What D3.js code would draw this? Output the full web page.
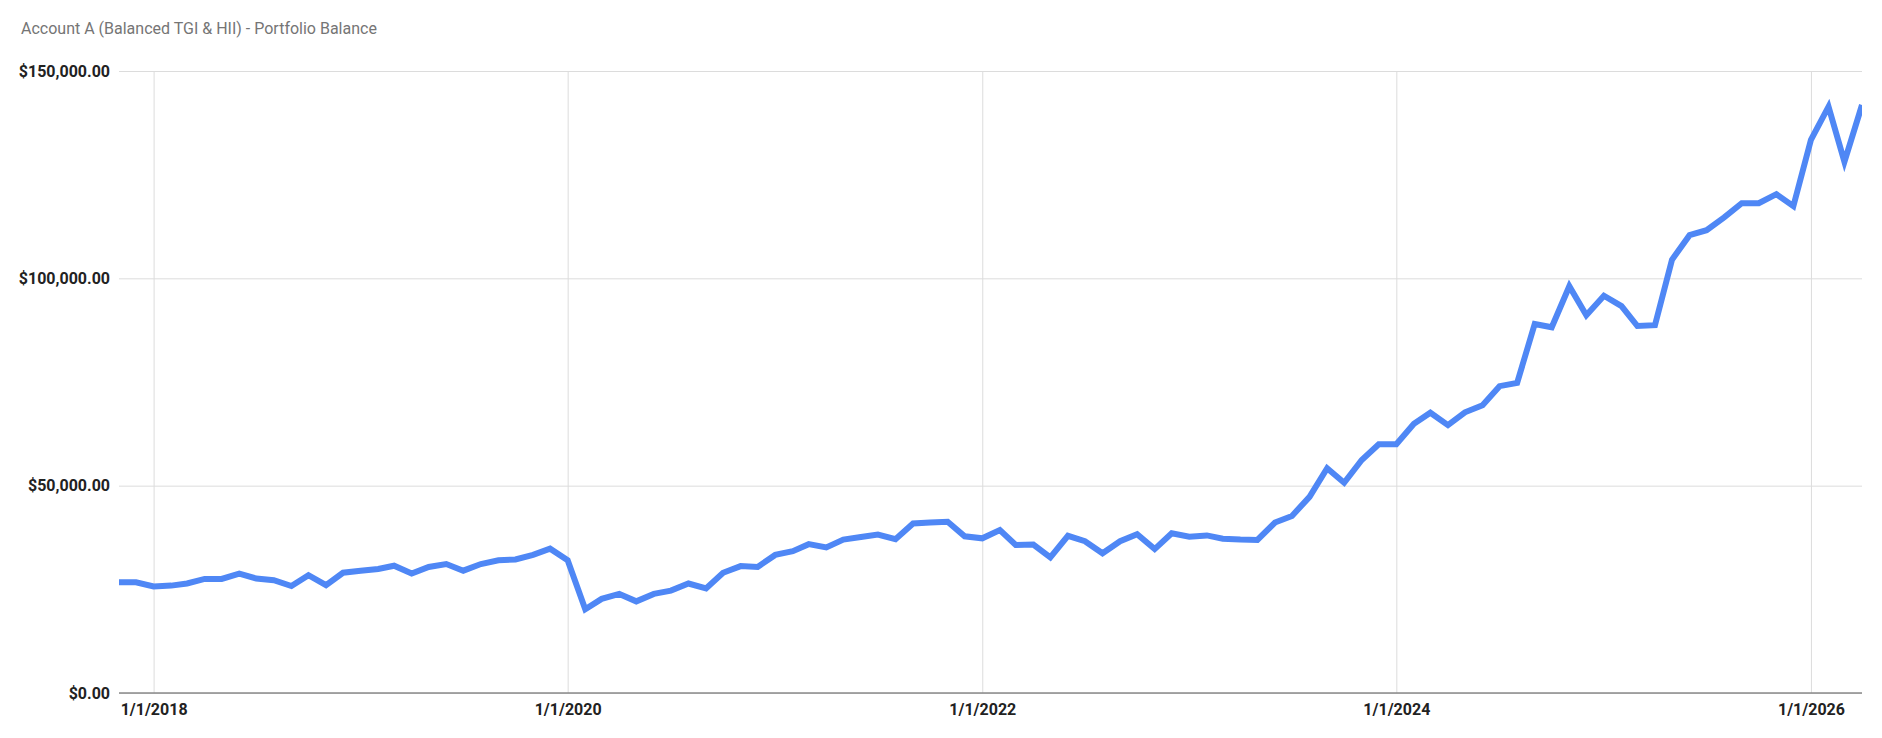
<!DOCTYPE html>
<html>
<head>
<meta charset="utf-8">
<script src="https://cdn.jsdelivr.net/npm/d3@7"></script>
<style>
  body { margin: 0; background: #fff; }
  text { font-family: Roboto, "Noto Sans", sans-serif; }
</style>
</head>
<body>
<div id="chart"></div>
<script>
// Month starts (first of each month), Nov 2017 .. Apr 2026
var months = [
  "2017-11","2017-12",
  "2018-01","2018-02","2018-03","2018-04","2018-05","2018-06","2018-07","2018-08","2018-09","2018-10","2018-11","2018-12",
  "2019-01","2019-02","2019-03","2019-04","2019-05","2019-06","2019-07","2019-08","2019-09","2019-10","2019-11","2019-12",
  "2020-01","2020-02","2020-03","2020-04","2020-05","2020-06","2020-07","2020-08","2020-09","2020-10","2020-11","2020-12",
  "2021-01","2021-02","2021-03","2021-04","2021-05","2021-06","2021-07","2021-08","2021-09","2021-10","2021-11","2021-12",
  "2022-01","2022-02","2022-03","2022-04","2022-05","2022-06","2022-07","2022-08","2022-09","2022-10","2022-11","2022-12",
  "2023-01","2023-02","2023-03","2023-04","2023-05","2023-06","2023-07","2023-08","2023-09","2023-10","2023-11","2023-12",
  "2024-01","2024-02","2024-03","2024-04","2024-05","2024-06","2024-07","2024-08","2024-09","2024-10","2024-11","2024-12",
  "2025-01","2025-02","2025-03","2025-04","2025-05","2025-06","2025-07","2025-08","2025-09","2025-10","2025-11","2025-12",
  "2026-01","2026-02","2026-03","2026-04"
];

// Portfolio balance
var balance = [
  26700, 26700,
  25700, 25900, 26400, 27500, 27500, 28800, 27600, 27200, 25800, 28400, 26000, 29000,
  29500, 29900, 30700, 28800, 30400, 31100, 29500, 31100, 32000, 32200, 33300, 34800,
  32000, 20200, 22700, 23900, 22100, 23900, 24700, 26400, 25200, 29000, 30600, 30400,
  33300, 34200, 35900, 35100, 37000, 37600, 38200, 37100, 40900, 41100, 41300, 37800,
  37300, 39300, 35700, 35800, 32700, 37900, 36600, 33700, 36600, 38300, 34700, 38500,
  37700, 38000, 37200, 37000, 36900, 41100, 42700, 47300, 54200, 50700, 56200, 60000,
  60000, 64900, 67600, 64600, 67700, 69400, 74000, 74800, 89000, 88200, 98100, 91100,
  95800, 93300, 88500, 88700, 104500, 110400, 111600, 114700, 118100, 118100, 120300, 117400,
  133400, 141400, 128100, 141800
];

var xTicks = ["2018-01-01", "2020-01-01", "2022-01-01", "2024-01-01", "2026-01-01"];
var yTicks = [0, 50000, 100000, 150000];

var title = "Account A (Balanced TGI & HII) - Portfolio Balance";

//Width and height
var w = 1882;
var h = 738;
var margin = { top: 71, right: 20, bottom: 45, left: 119 };
var innerW = w - margin.left - margin.right;
var innerH = h - margin.top - margin.bottom;

var parseMonth = d3.timeParse("%Y-%m");
var parseDay = d3.timeParse("%Y-%m-%d");
var fmtDate = d3.timeFormat("%-m/%-d/%Y");
var fmtMoney = d3.format("$,.2f");

var dataset = months.map(function (m, i) {
  return { date: parseMonth(m), value: balance[i] };
});

var svg = d3.select("#chart")
  .append("svg")
  .attr("width", w)
  .attr("height", h);

svg.append("text")
  .attr("x", 21)
  .attr("y", 34)
  .attr("font-size", 16)
  .attr("fill", "#757575")
  .text(title);

var g = svg.append("g")
  .attr("transform", "translate(" + margin.left + "," + margin.top + ")");

//Create scale functions
var xScale = d3.scaleTime()
  .domain(d3.extent(dataset, function (d) { return d.date; }))
  .range([0, innerW]);

var yScale = d3.scaleLinear()
  .domain([0, 150000])
  .range([innerH, 0]);

//Y axis with horizontal gridlines
var yAxis = d3.axisLeft(yScale)
  .tickValues(yTicks)
  .tickFormat(fmtMoney)
  .tickSize(-innerW)
  .tickPadding(9);

g.append("g")
  .attr("class", "y axis")
  .call(yAxis)
  .call(function (sel) {
    sel.select(".domain").remove();
    sel.selectAll(".tick line").attr("stroke", "#dcdcdc").attr("stroke-width", 1);
    sel.selectAll(".tick text")
      .attr("fill", "#222")
      .attr("font-size", 16)
      .attr("font-weight", "bold")
      .attr("font-family", "Roboto, 'Noto Sans', sans-serif");
  });

//X axis with vertical gridlines
var xAxis = d3.axisBottom(xScale)
  .tickValues(xTicks.map(parseDay))
  .tickFormat(fmtDate)
  .tickSize(-innerH);

g.append("g")
  .attr("class", "x axis")
  .attr("transform", "translate(0," + innerH + ")")
  .call(xAxis)
  .call(function (sel) {
    sel.select(".domain").remove();
    sel.selectAll(".tick line").attr("stroke", "#dcdcdc").attr("stroke-width", 1);
    sel.selectAll(".tick text")
      .attr("y", 22)
      .attr("dy", 0)
      .attr("fill", "#222")
      .attr("font-size", 16)
      .attr("font-weight", "bold")
      .attr("font-family", "Roboto, 'Noto Sans', sans-serif");
  });

//Baseline at $0
g.append("line")
  .attr("x1", 0)
  .attr("x2", innerW)
  .attr("y1", yScale(0))
  .attr("y2", yScale(0))
  .attr("stroke", "#8a8a8a")
  .attr("stroke-width", 1.5);

g.append("clipPath")
  .attr("id", "plot-clip")
  .append("rect")
  .attr("width", innerW)
  .attr("height", innerH);

var line = d3.line()
  .x(function (d) { return xScale(d.date); })
  .y(function (d) { return yScale(d.value); });

g.append("path")
  .datum(dataset)
  .attr("clip-path", "url(#plot-clip)")
  .attr("fill", "none")
  .attr("stroke", "#4f87f5")
  .attr("stroke-width", 6)
  .attr("stroke-linejoin", "miter")
  .attr("d", line);
</script>
</body>
</html>
